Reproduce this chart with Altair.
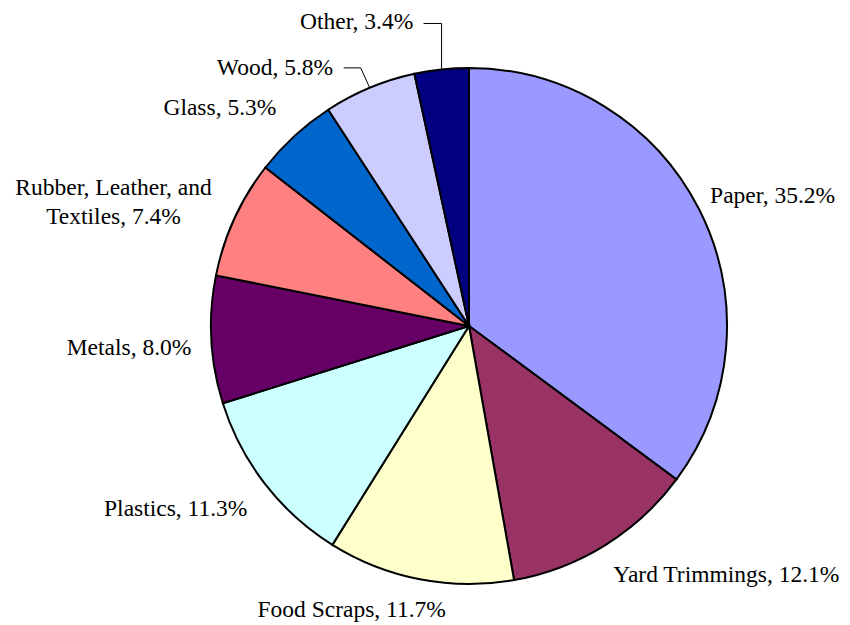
import altair as alt
import pandas as pd
import numpy as np

categories = ["Paper", "Yard Trimmings", "Food Scraps", "Plastics", "Metals",
              "Rubber, Leather, and Textiles", "Glass", "Wood", "Other"]
values = [35.2, 12.1, 11.7, 11.3, 8.0, 7.4, 5.3, 5.8, 3.4]
labels = ["Paper, 35.2%", "Yard Trimmings, 12.1%", "Food Scraps, 11.7%",
          "Plastics, 11.3%", "Metals, 8.0%", "Rubber, Leather, and\nTextiles, 7.4%",
          "Glass, 5.3%", "Wood, 5.8%", "Other, 3.4%"]
colors = ["#9999FF", "#993366", "#FFFFCC", "#CCFFFF", "#660066",
          "#FF8080", "#0066CC", "#CCCCFF", "#000080"]

# layout constants
W, H = 834, 617
CX, CY = 461, 318
R = 258
LR = 270
FONT = "Liberation Serif"
FS = 23.5

total = float(sum(values))
df = pd.DataFrame({"idx": list(range(len(categories))), "category": categories,
                   "value": values, "label": labels})
df["mid"] = df["value"].cumsum() - df["value"] / 2

# label styles: align, dx, dy (relative to anchor at radius LR, mid-angle)
styles = {
    0: ("left", 0, -1),
    1: ("left", 2, 27),
    2: ("center", -66, 26),
    3: ("right", -8, 25),
    4: ("right", -8, 15),
    5: ("center", -110, -19),
    6: ("right", -10, -12),
    7: ("right", -32, -2),
    8: ("right", -27, -29),
}

# leader lines for Wood and Other (start at slice edge at mid-angle)
leader_offsets = {7: [(0, 0), (-9, -20), (-26, -20)], 8: [(0, 0), (0, -46), (-18, -46)]}
rows = []
for i, offs in leader_offsets.items():
    ang = df.loc[i, "mid"] / total * 2 * np.pi
    ex = CX + R * np.sin(ang)
    ey = CY - R * np.cos(ang)
    for k, (ox, oy) in enumerate(offs):
        rows.append({"g": i, "k": k, "px": ex + ox, "py": ey + oy})
lines_df = pd.DataFrame(rows)

theta_scale = alt.Scale(domain=[0, total])

base = alt.Chart(df)
arcs = base.mark_arc(outerRadius=R, stroke="black", strokeWidth=2).encode(
    theta=alt.Theta("value:Q", stack=True, scale=theta_scale),
    color=alt.Color("category:N", scale=alt.Scale(domain=categories, range=colors), legend=None),
    order=alt.Order("idx:Q"),
    x=alt.value(CX),
    y=alt.value(CY),
)

layers = [arcs]
for i, (align, dx, dy) in styles.items():
    t = base.transform_filter(alt.datum.idx == i).mark_text(
        align=align, baseline="alphabetic", dx=dx, dy=dy, font=FONT, fontSize=FS,
        lineBreak="\n", lineHeight=29, color="black"
    ).encode(
        theta=alt.Theta("mid:Q", stack=None, scale=theta_scale),
        radius=alt.value(LR),
        text="label:N",
        x=alt.value(CX),
        y=alt.value(CY),
    )
    layers.append(t)

leaders = alt.Chart(lines_df).mark_line(color="black", strokeWidth=1).encode(
    x=alt.X("px:Q", scale=alt.Scale(domain=[0, W], nice=False, zero=False), axis=None),
    y=alt.Y("py:Q", scale=alt.Scale(domain=[0, H], nice=False, zero=False, reverse=True), axis=None),
    detail="g:N",
    order="k:Q",
)
layers.append(leaders)

chart = alt.layer(*layers).properties(
    width=W, height=H, padding=0, autosize=alt.AutoSizeParams(type="none")
).configure_view(stroke=None)

chart.save("out.html", embed_options={"renderer": "svg", "actions": False})
